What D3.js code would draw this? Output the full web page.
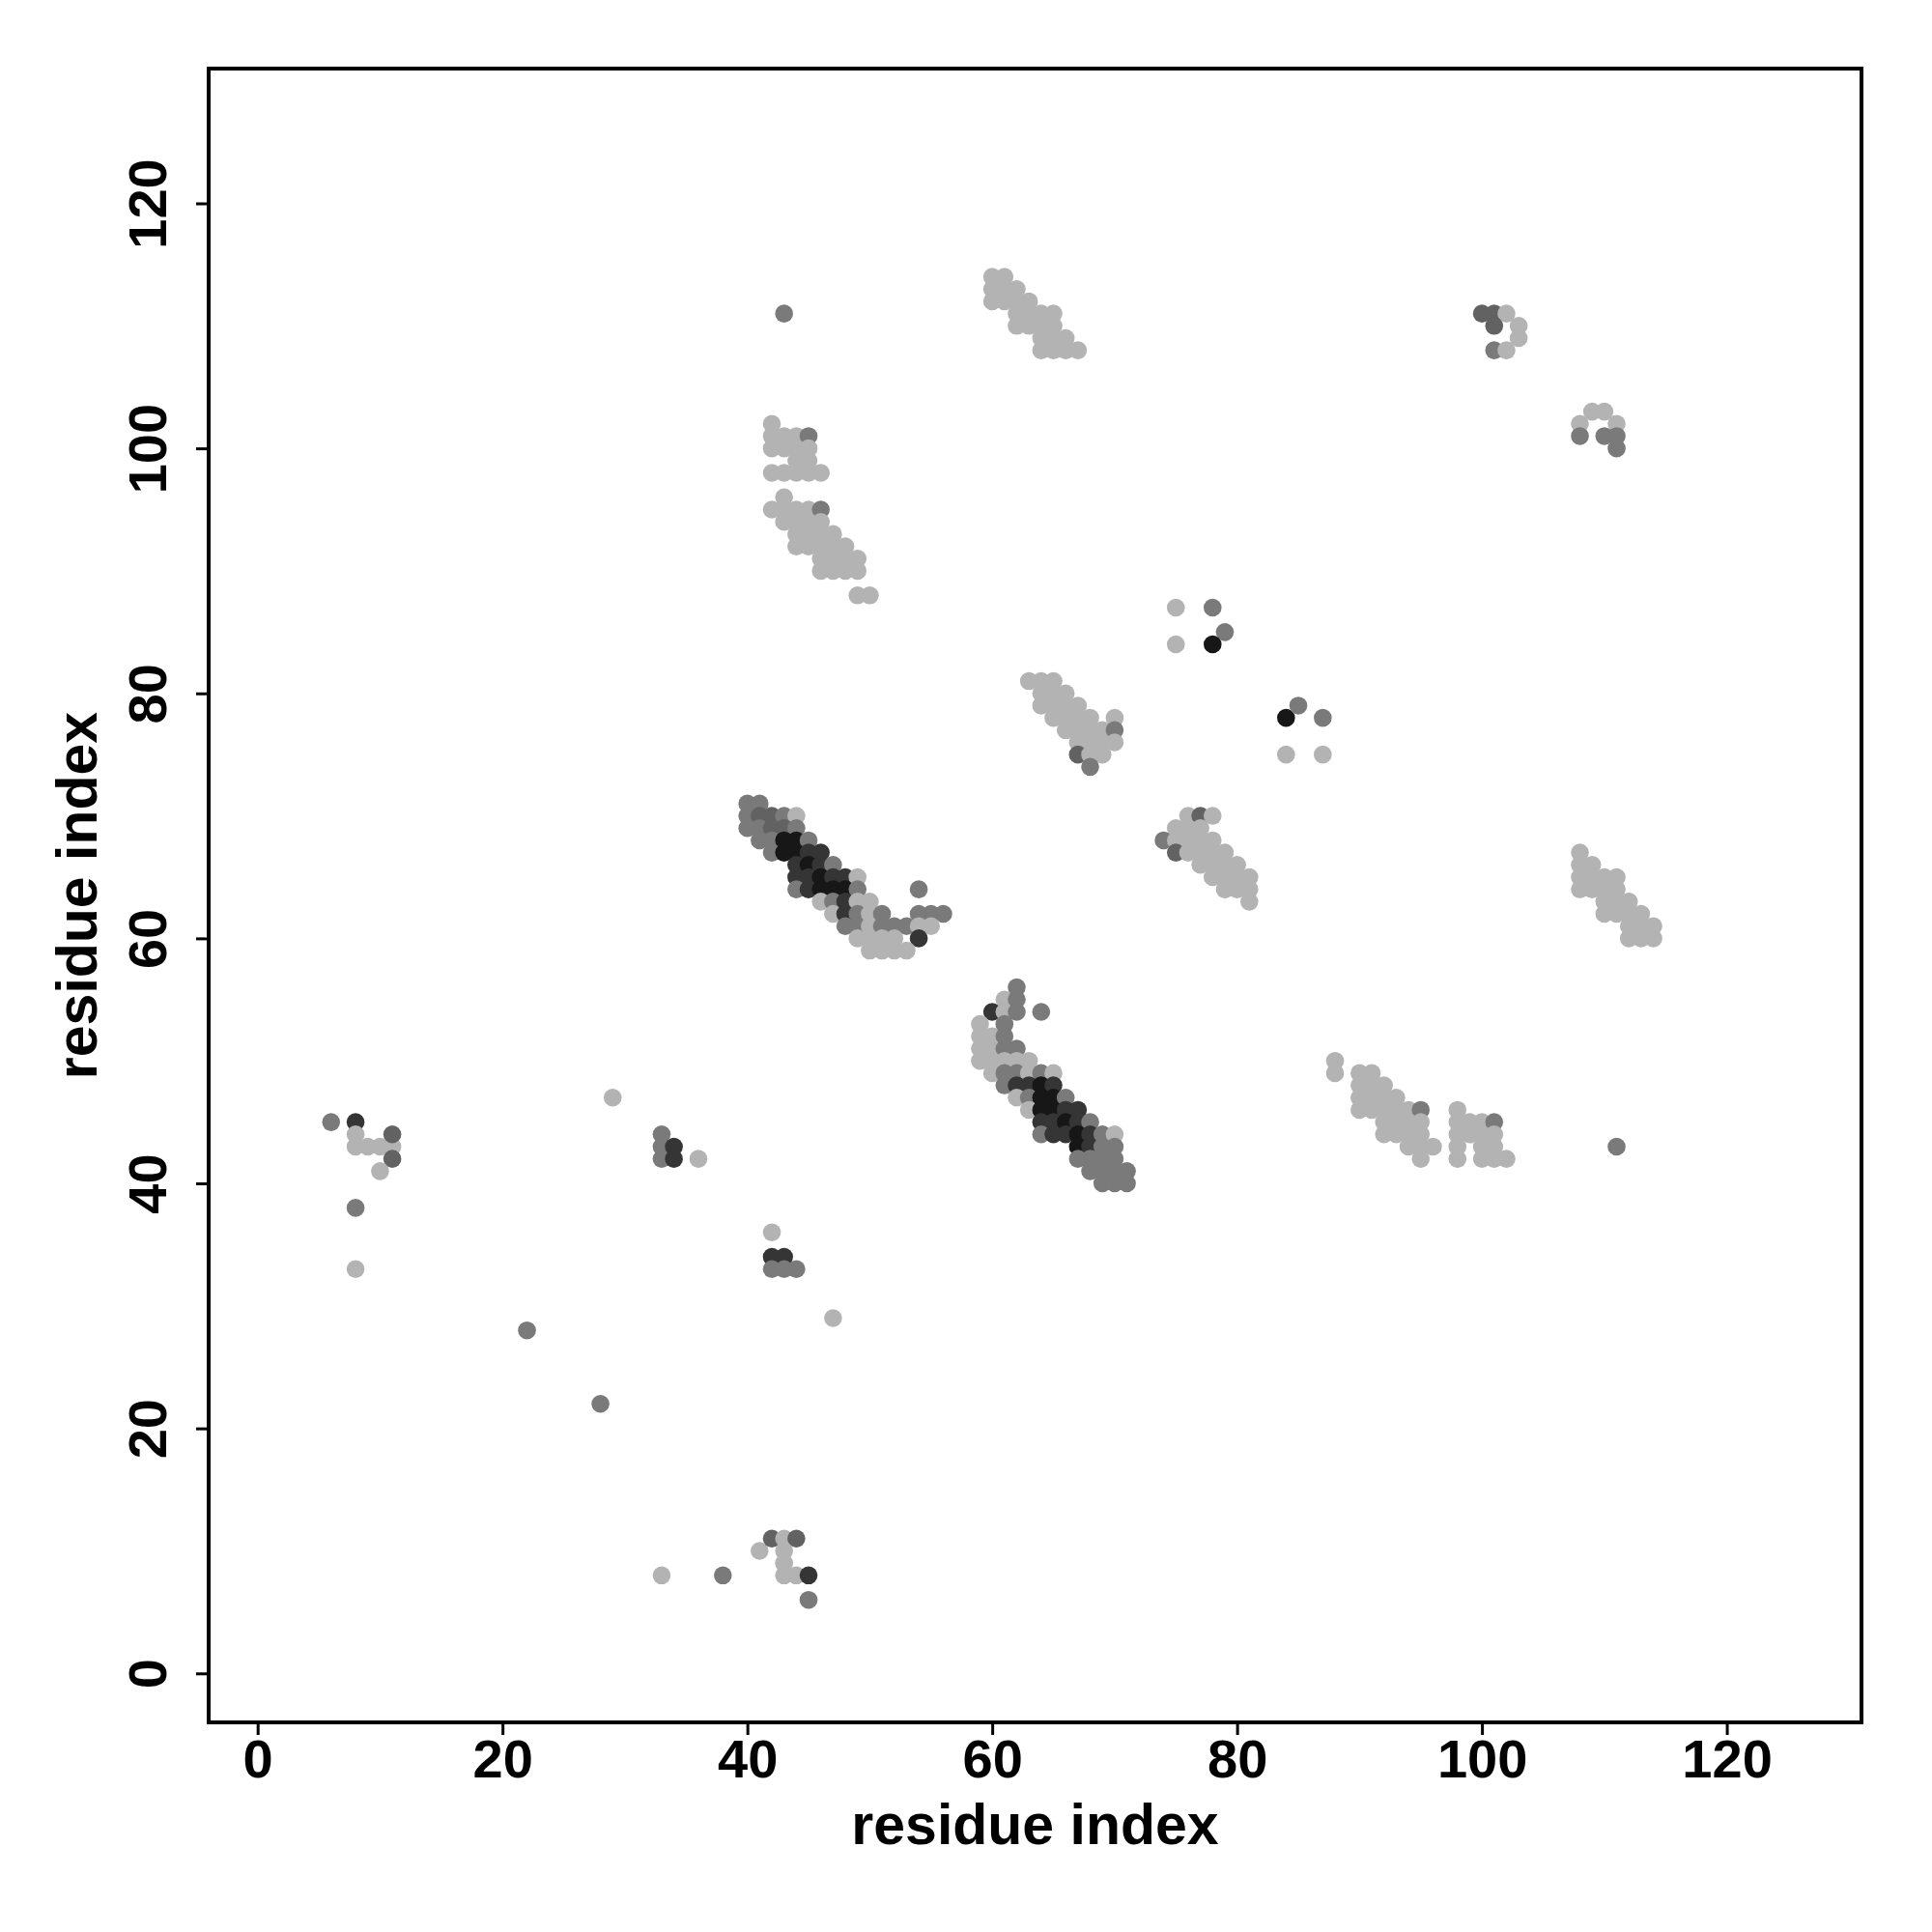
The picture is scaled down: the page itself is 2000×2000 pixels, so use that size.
<!DOCTYPE html>
<html><head><meta charset="utf-8">
<script src="https://cdn.jsdelivr.net/npm/d3@7"></script>
<style>body{margin:0;background:#fff}svg{display:block}</style>
</head><body>
<script>
// residue i (x), residue j (y), shade level (0 light .. 4 black)
const residueI = [
 6,8,8,8,9,10,11,11,11,10,8,8,29,33,33,33,34,34,36,
 42,42,43,42,43,44,47,22,28,
 33,38,41,42,43,44,43,43,43,44,45,45,
 100,101,102,101,103,103,101,102,
 108,109,110,111,108,110,111,111,
 108,108,109,108,109,110,111,108,109,110,111,110,111,112,110,111,112,113,112,113,114,112,113,114,
 88,88,90,91,90,91,92,90,91,92,93,90,91,92,93,94,95,92,93,94,95,92,93,94,95,94,95,96,95,
 98,98,99,100,101,98,99,100,101,98,100,101,98,100,101,102,111,
 42,42,43,44,45,42,43,44,45,44,45,42,43,44,45,46,43,42,43,44,45,46,43,44,45,46,44,45,46,47,44,45,46,47,48,46,47,48,49,46,47,48,49,49,50,
 60,61,60,61,62,60,61,62,63,62,63,64,65,62,63,64,65,64,65,66,64,65,66,67,
 75,78,79,75,78,84,85,87,84,87,
 63,64,65,64,65,66,64,65,66,67,65,66,67,68,70,66,67,68,69,70,67,68,69,70,67,68,69,68,
 76,77,78,75,76,77,74,75,76,77,78,75,76,77,78,79,77,78,79,80,78,79,80,81,79,80,81,81,
 40,41,40,41,42,43,44,40,41,42,43,44,41,42,43,44,45,42,43,44,45,46,44,45,46,47,
 44,45,46,47,48,49,44,45,46,47,48,49,54,46,47,48,49,50,47,48,49,50,51,54,55,56,
 48,49,50,51,52,53,54,55,49,50,51,52,54,50,51,52,53,
 62,61,62,60,61,62,64,59,61,59,60,61,59,60,61,62,59,60,61,62,63,60,61,62,63,64,65,
 61,62,63,64,65,62,63,64,65,66,63,64,65,66,67,64,65,66,67,68,64,65,66,67,68,69,70,
 67,68,69,70,67,68,69,70,68,69,70,71,69,70,71,
 43
];
const residueJ = [
 45,45,44,43,43,43,43,44,42,41,38,33,47,44,43,42,43,42,42,
 36,34,34,33,33,33,29,28,22,
 8,8,10,11,11,11,10,9,8,8,8,6,
 111,111,111,110,110,109,108,108,
 102,103,103,102,101,101,101,100,
 67,66,66,65,65,65,65,64,64,64,64,63,63,63,62,62,62,62,61,61,61,60,60,60,
 50,49,49,49,48,48,48,47,47,47,47,46,46,46,46,46,46,45,45,45,45,44,44,44,44,43,43,43,42,
 46,45,45,45,45,44,44,44,44,43,43,43,42,42,42,42,43,
 102,101,101,101,101,100,100,100,100,99,99,98,98,98,98,98,96,95,95,95,95,95,94,94,94,94,93,93,93,93,92,92,92,92,92,91,91,91,91,90,90,90,90,88,88,
 114,114,113,113,113,112,112,112,112,111,111,111,111,110,110,110,110,109,109,109,108,108,108,108,
 87,87,85,84,84,78,79,78,75,75,
 81,81,81,80,80,80,79,79,79,79,78,78,78,78,78,77,77,77,77,77,76,76,76,76,75,75,75,74,
 70,70,70,69,69,69,68,68,68,68,68,67,67,67,67,67,66,66,66,66,65,65,65,65,64,64,64,63,
 71,71,70,70,70,70,70,69,69,69,69,69,68,68,68,68,68,67,67,67,67,67,66,66,66,66,
 65,65,65,65,65,65,64,64,64,64,64,64,64,63,63,63,63,63,62,62,62,62,62,62,62,62,
 61,61,61,61,61,61,61,61,60,60,60,60,60,59,59,59,59,
 56,55,55,54,54,54,54,53,53,52,52,52,51,51,51,51,50,50,50,50,50,49,49,49,49,49,49,
 48,48,48,48,48,47,47,47,47,47,46,46,46,46,46,45,45,45,45,45,44,44,44,44,44,44,44,
 43,43,43,43,42,42,42,42,41,41,41,41,40,40,40,
 111
];
const shadeLevel = [
 1,3,0,0,0,0,0,2,2,0,1,0,0,1,1,1,3,3,0,
 0,3,3,1,1,1,0,1,1,
 0,1,0,2,0,2,0,0,0,0,3,1,
 2,2,0,2,0,0,1,0,
 0,0,0,0,1,1,1,1,
 0,0,0,0,0,0,0,0,0,0,0,0,0,0,0,0,0,0,0,0,0,0,0,0,
 0,0,0,0,0,0,0,0,0,0,0,0,0,0,0,0,1,0,0,0,0,0,0,0,0,0,0,0,0,
 0,0,0,0,1,0,0,0,0,0,0,0,0,0,0,0,1,
 0,0,0,0,1,0,0,0,0,0,0,0,0,0,0,0,0,0,0,0,0,1,0,0,0,0,0,0,0,0,0,0,0,0,0,0,0,0,0,0,0,0,0,0,0,
 0,0,0,0,0,0,0,0,0,0,0,0,0,0,0,0,0,0,0,0,0,0,0,0,
 0,1,1,0,4,4,1,1,0,0,
 0,0,0,0,0,0,0,0,0,0,0,0,0,0,0,0,0,0,0,1,0,0,0,0,2,0,0,1,
 0,2,0,0,0,0,1,0,0,0,0,2,0,0,0,0,0,0,0,0,0,0,0,0,0,0,0,0,
 1,1,1,2,2,1,0,1,1,2,2,1,1,1,4,4,1,1,4,4,3,3,3,4,3,1,
 3,3,4,3,3,0,1,3,4,4,4,1,1,0,1,3,0,0,0,3,1,0,1,1,1,1,
 1,1,0,1,1,1,0,0,0,0,0,0,3,0,0,0,0,
 1,0,1,3,0,1,1,0,1,0,0,1,0,0,1,1,0,0,0,0,0,0,1,1,0,1,0,
 1,3,3,4,3,0,1,4,4,1,0,4,4,3,3,3,3,4,3,1,1,3,3,4,3,1,0,
 4,3,1,1,1,1,1,1,1,1,1,1,1,1,1,
 1
];
const shadeColors = ["#b3b3b3", "#7a7a7a", "#626262", "#353535", "#171717"];
const tickValues = [0, 20, 40, 60, 80, 100, 120];
const axisTitleX = "residue index";
const axisTitleY = "residue index";

const W = 2000, H = 2000;
const L = 216, R = 1927, T = 71, B = 1783;
const svg = d3.select("body").append("svg").attr("width", W).attr("height", H);
svg.append("rect").attr("width", W).attr("height", H).attr("fill", "#fff");

const x = d3.scaleLinear().domain([-4, 131]).range([L, R]);
const y = d3.scaleLinear().domain([-4, 131]).range([B, T]);
const color = d3.scaleOrdinal().domain([0,1,2,3,4]).range(shadeColors);

const data = residueI.map((d, k) => ({i: d, j: residueJ[k], s: shadeLevel[k]}));

svg.append("g").selectAll("circle").data(data).join("circle")
  .attr("cx", d => x(d.i)).attr("cy", d => y(d.j)).attr("r", 9.3)
  .attr("fill", d => color(d.s));

svg.append("rect").attr("x", L).attr("y", T).attr("width", R - L).attr("height", B - T)
  .attr("fill", "none").attr("stroke", "#000").attr("stroke-width", 4);

const font = "'Liberation Sans', Arial, Helvetica, sans-serif";

const gx = svg.append("g").attr("transform", `translate(0,${B})`)
  .call(d3.axisBottom(x).tickValues(tickValues).tickSize(13).tickSizeOuter(0));
gx.select(".domain").attr("stroke-width", 3);
gx.selectAll(".tick line").attr("stroke-width", 3);
gx.selectAll(".tick text").attr("y", 57).attr("dy", 0)
  .style("font-family", font).style("font-weight", "bold").style("font-size", "56px").attr("fill", "#000");

const gy = svg.append("g").attr("transform", `translate(${L},0)`)
  .call(d3.axisLeft(y).tickValues(tickValues).tickSize(13).tickSizeOuter(0));
gy.select(".domain").attr("stroke-width", 3);
gy.selectAll(".tick line").attr("stroke-width", 3);
gy.selectAll(".tick text").attr("x", 0).attr("y", 0).attr("dy", 0)
  .attr("text-anchor", "middle")
  .attr("transform", "translate(-44,0) rotate(-90)")
  .style("font-family", font).style("font-weight", "bold").style("font-size", "56px").attr("fill", "#000");

svg.append("text").attr("x", (L + R) / 2).attr("y", 1909).attr("text-anchor", "middle")
  .style("font-family", font).style("font-weight", "bold").style("font-size", "59px").text(axisTitleX);
svg.append("text").attr("transform", `translate(100,${(T + B) / 2}) rotate(-90)`).attr("text-anchor", "middle")
  .style("font-family", font).style("font-weight", "bold").style("font-size", "59px").text(axisTitleY);
</script>
</body></html>
